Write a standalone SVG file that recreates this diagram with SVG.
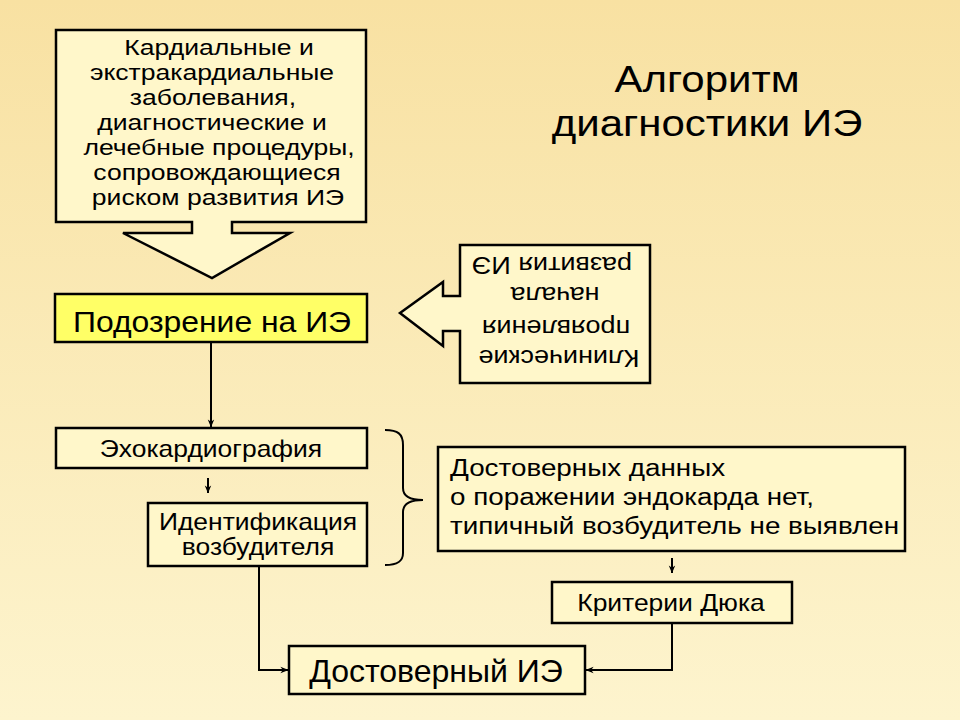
<svg xmlns="http://www.w3.org/2000/svg" width="960" height="720" viewBox="0 0 960 720">
<defs>
<linearGradient id="bg" x1="0" y1="0" x2="0" y2="1">
<stop offset="0" stop-color="#F8E1A2"/>
<stop offset="1" stop-color="#FDF4CE"/>
</linearGradient>
<marker id="ah" viewBox="0 0 10 10" refX="9.5" refY="5" markerWidth="8" markerHeight="8" orient="auto" markerUnits="userSpaceOnUse">
<path d="M0,1 L10,5 L0,9 L3,5 Z" fill="#000"/>
</marker>
<style>
.box{fill:#FFF7CA;stroke:#000;stroke-width:2.5}
.yel{fill:#FFFF66;stroke:#000;stroke-width:2.5}
.t{font-family:"Liberation Sans",Arial,sans-serif;fill:#000}
.c{text-anchor:middle}
.ln{fill:none;stroke:#000;stroke-width:2}
</style>
</defs>
<rect width="960" height="720" fill="url(#bg)"/>

<g id="title">
<g transform="translate(707,0) scale(1.12,1)">
<text class="t c" x="0" y="92" font-size="37.5">Алгоритм</text>
<text class="t c" x="0" y="136" font-size="37.5">диагностики ИЭ</text>
</g>
</g>

<g id="risk">
<path class="box" d="M56,30 H366 V222 H232 V233 H290 L212,278 L123,233 H192 V222 H56 Z"/>
<g transform="translate(212,0) scale(1.19,1)">
<text class="t c" x="5.9" y="55" font-size="22.3">Кардиальные и</text>
<text class="t c" x="0" y="80" font-size="22.3">экстракардиальные</text>
<text class="t c" x="0.8" y="105" font-size="22.3">заболевания,</text>
<text class="t c" x="0" y="130" font-size="22.3">диагностические и</text>
<text class="t c" x="5.9" y="155" font-size="22.3">лечебные процедуры,</text>
<text class="t c" x="4.2" y="180" font-size="22.3">сопровождающиеся</text>
<text class="t c" x="5" y="205" font-size="22.3">риском развития ИЭ</text>
</g>
</g>

<g id="suspicion">
<rect class="yel" x="55" y="294" width="312" height="48"/>
<g transform="translate(212,0) scale(1.1,1)">
<text class="t c" x="0" y="332" font-size="29">Подозрение на ИЭ</text>
</g>
</g>

<g id="clinical">
<path class="box" d="M460,245 H650 V383 H460 V331 H443 V346 L400,313 L443,282 V296 H460 Z"/>
<g transform="rotate(180 555 314) translate(555,0) scale(1.15,1)">
<text class="t c" x="-3.5" y="278" font-size="23.5">Клинические</text>
<text class="t c" x="-0.9" y="308" font-size="23.5">проявления</text>
<text class="t c" x="0" y="341" font-size="23.5">начала</text>
<text class="t c" x="2.6" y="371" font-size="23.5">развития ИЭ</text>
</g>
</g>

<g id="echo">
<rect class="box" x="56" y="428" width="311" height="40"/>
<g transform="translate(211,0) scale(1.15,1)">
<text class="t c" x="0" y="457" font-size="23">Эхокардиография</text>
</g>
</g>

<g id="ident">
<rect class="box" x="148" y="503" width="219" height="63"/>
<g transform="translate(258,0) scale(1.15,1)">
<text class="t c" x="0" y="530" font-size="23">Идентификация</text>
<text class="t c" x="0" y="555" font-size="23">возбудителя</text>
</g>
</g>

<g id="nodata">
<rect class="box" x="438" y="447" width="467" height="104"/>
<g transform="translate(450,0) scale(1.15,1)">
<text class="t" x="0" y="476" font-size="24.2">Достоверных данных</text>
<text class="t" x="0" y="505" font-size="24.2">о поражении эндокарда нет,</text>
<text class="t" x="0" y="534" font-size="24.2">типичный возбудитель не выявлен</text>
</g>
</g>

<g id="duke">
<rect class="box" x="552" y="582" width="240" height="41"/>
<g transform="translate(671,0) scale(1.15,1)">
<text class="t c" x="0" y="611" font-size="23">Критерии Дюка</text>
</g>
</g>

<g id="definite">
<rect class="box" x="289" y="646" width="296" height="48"/>
<g transform="translate(436,0) scale(1.05,1)">
<text class="t c" x="0" y="682" font-size="30.5">Достоверный ИЭ</text>
</g>
</g>

<g id="connectors">
<path class="ln" d="M211,343 V427" marker-end="url(#ah)"/>
<path class="ln" d="M208,478 V493" marker-end="url(#ah)"/>
<path class="ln" d="M672,558 V573" marker-end="url(#ah)"/>
<path class="ln" d="M259,567 V670 H288" marker-end="url(#ah)"/>
<path class="ln" d="M672,624 V670 H586" marker-end="url(#ah)"/>
<path class="ln" d="M385,430 C398,430 403,434 403,445 V488 C403,496 410,500 423,500 C410,500 403,504 403,512 V553 C403,561 398,565 385,565"/>
</g>
</svg>
